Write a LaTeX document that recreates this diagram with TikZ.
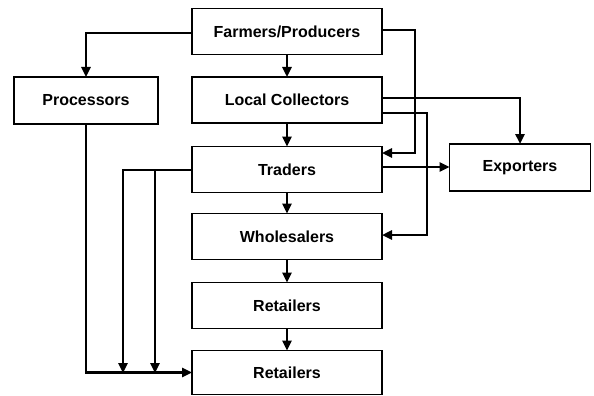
\documentclass[tikz,border=0pt]{standalone}
\usepackage{fontspec}
\setsansfont{Liberation Sans}
\usepackage{tikz}
\usetikzlibrary{arrows.meta}

\begin{document}
\begin{tikzpicture}[x=1pt,y=-1pt,
  stage/.style={draw=black,fill=white,line width=1.8pt,inner sep=0pt,outer sep=0pt,minimum width=190pt,minimum height=46pt,font=\sffamily\bfseries\fontsize{16}{19}\selectfont},
  flow/.style={draw=black,line width=2.4pt,-{Triangle[length=10pt,width=9pt]}}]
\path[use as bounding box] (0,0) rectangle (594,396);
\path[fill=white,draw=none] (0,0) rectangle (594,396);
\node[stage] (farm) at (287,31.5) {Farmers/Producers};
\node[stage] (coll) at (287,100) {Local Collectors};
\node[stage] (trad) at (287,169.5) {Traders};
\node[stage] (whole) at (287,236.5) {Wholesalers};
\node[stage] (retA) at (287,305.5) {Retailers};
\node[stage,minimum height=44pt] (retB) at (287,372.5) {Retailers};
\node[stage,minimum width=144pt,minimum height=47pt] (proc) at (86,100.5) {Processors};
\node[stage,minimum width=141pt,minimum height=47pt] (expo) at (520,167.5) {Exporters};
\draw[flow] (farm) -- (coll);
\draw[flow] (coll) -- (trad);
\draw[flow] (trad) -- (whole);
\draw[flow] (whole) -- (retA);
\draw[flow] (retA) -- (retB);
\draw[flow] (farm.west |- 0,33) -| (proc.north);
\draw[flow] (farm.east |- 0,30) -| (415,153) -- (trad.east |- 0,153);
\draw[flow] (coll.east |- 0,98) -| (expo.north);
\draw[flow] (coll.east |- 0,113) -| (427,235) -- (whole.east |- 0,235);
\draw[flow] (trad.east |- 0,167) -- (expo.west |- 0,167);
\draw[flow] (trad.west |- 0,170) -| (123,373);
\draw[flow] (155,170) -- (155,373);
\draw[flow] (proc.south) |- (retB.west);
\end{tikzpicture}
\end{document}
